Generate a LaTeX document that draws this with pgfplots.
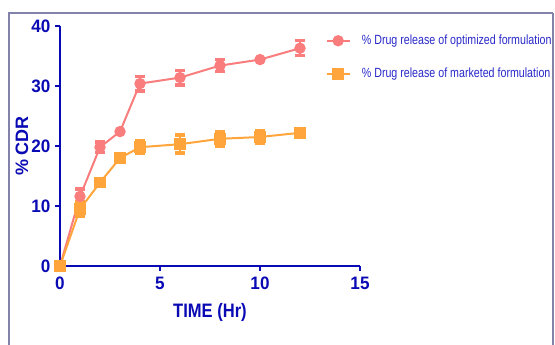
\documentclass[border=0pt]{standalone}
\usepackage{fontspec}
\usepackage{pgfplots}
\pgfplotsset{compat=1.18}
\usepackage{pgfplotstable}
\setmainfont{Liberation Sans}
\newfontfamily\tickfont[FakeStretch=0.95]{Liberation Sans}
\newfontfamily\labfont[FakeStretch=0.85]{Liberation Sans}
\newfontfamily\legfont[FakeStretch=0.8]{Liberation Sans}
\definecolor{axblue}{RGB}{10,10,180}
\definecolor{legblue}{RGB}{40,40,200}
\definecolor{pinkc}{RGB}{250,125,125}
\definecolor{orangec}{RGB}{255,165,60}
\definecolor{framec}{RGB}{130,130,170}

\pgfplotstableread{
x y e
0 0 0
1 11.6 1.2
2 19.8 0.9
3 22.4 0
4 30.4 1.2
6 31.4 1.2
8 33.4 1.0
10 34.4 0
12 36.3 1.25
}\optim

\pgfplotstableread{
x y e
0 0 0
1 9.5 1.25
2 13.9 0
3 18.0 0
4 19.8 1.0
6 20.3 1.5
8 21.2 1.25
10 21.5 1.0
12 22.2 0
}\market

\begin{document}
\begin{tikzpicture}
\useasboundingbox (0,0) rectangle (416.25pt,258.75pt);
\draw[framec, line width=2pt] (6.75pt,-1pt) -- (6.75pt,249pt);
\draw[framec, line width=1.5pt] (5.75pt,249pt) -- (414.75pt,249pt);
\draw[framec, line width=0.8pt] (414.75pt,249pt) -- (414.75pt,-1pt);
\begin{axis}[
  at={(45pt,59.25pt)}, anchor=south west,
  scale only axis, width=225pt, height=180pt,
  xmin=0, xmax=15, ymin=0, ymax=40,
  axis lines=left,
  axis line style={-, axblue, line width=1.6pt},
  xtick={0,5,10,15}, ytick={0,10,20,30,40},
  tick align=outside,
  major tick length=3.75pt,
  tick style={axblue, line width=1.6pt},
  minor tick num=0,
  ticklabel style={font=\tickfont\bfseries\fontsize{13.5}{15}\selectfont, text=axblue},
  xticklabel style={yshift=-1pt},
  /pgf/number format/assume math mode=true,
  xlabel={TIME (Hr)}, ylabel={\% CDR},
  xlabel style={font=\labfont\bfseries\fontsize{14.6}{17}\selectfont, text=axblue, at={(axis description cs:0.5,-0.192)}, anchor=center},
  ylabel style={font=\bfseries\fontsize{13.5}{16}\selectfont, text=axblue, at={(axis description cs:-0.127,0.5)}, anchor=center},
  clip=false,
  legend style={at={(axis description cs:0.885,0.975)}, anchor=north west, draw=none, fill=none,
    font=\legfont\fontsize{10}{12}\selectfont, text=legblue, row sep=12pt, inner sep=0pt},
  legend cell align=left,
]
\addplot[pinkc, line width=1.5pt, mark=*, mark size=3.5pt, mark options={solid, fill=pinkc, draw=pinkc},
  error bars/.cd, y dir=both, y explicit,
  error bar style={line width=2.2pt, pinkc},
  error mark options={line width=2.6pt, mark size=3.75pt, pinkc, rotate=90}]
  table[x=x, y=y, y error=e] {\optim};
\addlegendentry{\hspace{6.5pt}\% Drug release of optimized formulation}
\addplot[orangec, line width=1.5pt, mark=square*, mark size=3.6pt, mark options={solid, fill=orangec, draw=orangec},
  error bars/.cd, y dir=both, y explicit,
  error bar style={line width=2.2pt, orangec},
  error mark options={line width=2.6pt, mark size=3.75pt, orangec, rotate=90}]
  table[x=x, y=y, y error=e] {\market};
\addlegendentry{\hspace{6.5pt}\% Drug release of marketed formulation}
\end{axis}
\end{tikzpicture}
\end{document}
